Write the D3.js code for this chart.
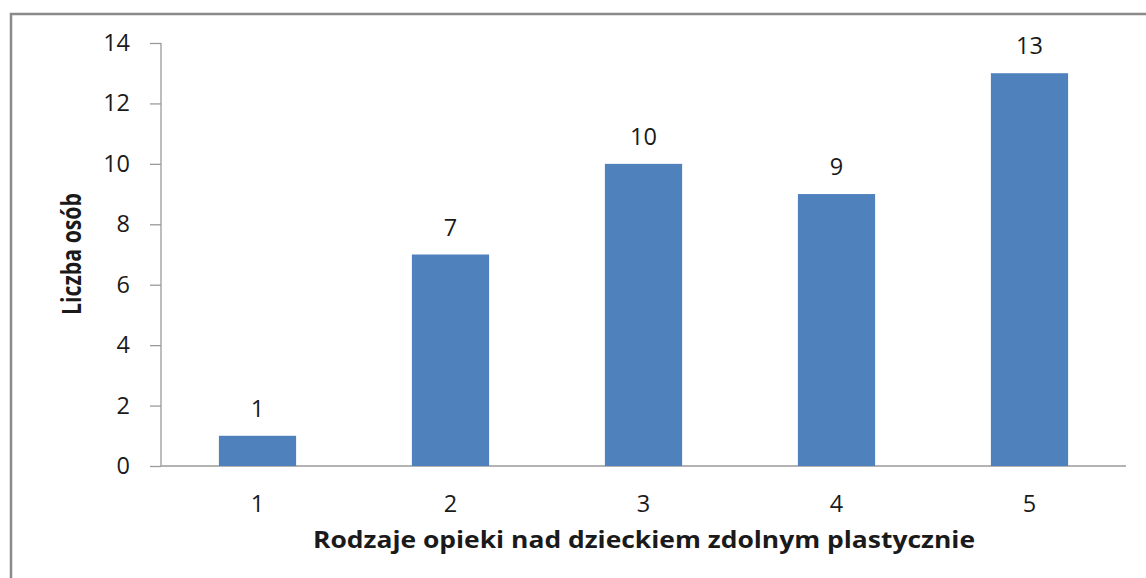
<!DOCTYPE html>
<html>
<head>
<meta charset="utf-8">
<script src="https://cdn.jsdelivr.net/npm/d3@7"></script>
<style>
	body { margin: 0; background: #fff; }
	svg { display: block; }
	text { font-family: "Open Sans", "DejaVu Sans", sans-serif; fill: #1a1a1a; }
</style>
</head>
<body>
<script>
var categories = ["1", "2", "3", "4", "5"],
	values = [1, 7, 10, 9, 13],
	yTicks = [0, 2, 4, 6, 8, 10, 12, 14];

var yTitle = "Liczba osób",
	xTitle = "Rodzaje opieki nad dzieckiem zdolnym plastycznie";

var width = 1146,
	height = 578,
	margin = { top: 43, right: 20, bottom: 112, left: 161 };

var svg = d3.select("body").append("svg")
	.attr("width", width)
	.attr("height", height);

// frame of the chart area (only top and left edges are visible)
svg.append("path")
	.attr("d", "M11,580 V14 H1150")
	.attr("fill", "none")
	.attr("stroke", "#8a8a8a")
	.attr("stroke-width", 2.5);

var x = d3.scaleBand()
	.domain(categories)
	.range([margin.left, width - margin.right])
	.paddingInner(0.6)
	.paddingOuter(0.3);

var y = d3.scaleLinear()
	.domain([0, 14])
	.range([height - margin.bottom, margin.top]);

// y axis
var yAxis = svg.append("g")
	.attr("transform", "translate(" + margin.left + ",0)")
	.call(d3.axisLeft(y).tickValues(yTicks).tickSize(11).tickPadding(20));

yAxis.selectAll("line, path").attr("stroke", "#9a9a9a").attr("stroke-width", 1.3);
yAxis.select(".domain").attr("d", "M0," + y(14) + "V" + y(0));
yAxis.selectAll("text")
	.style("font-size", "23.5px")
	.attr("fill", "#1a1a1a")
	.style("font-family", "'Open Sans', sans-serif");

// x axis
var xAxis = svg.append("g")
	.attr("transform", "translate(0," + y(0) + ")")
	.call(d3.axisBottom(x).tickSize(0).tickPadding(29));

xAxis.select(".domain")
	.attr("stroke", "#9a9a9a")
	.attr("stroke-width", 1.3)
	.attr("d", "M" + margin.left + ",0H" + (width - margin.right));
xAxis.selectAll("text")
	.style("font-size", "23.5px")
	.attr("fill", "#1a1a1a")
	.style("font-family", "'Open Sans', sans-serif");

// bars
svg.selectAll(".bar")
	.data(values)
	.enter().append("rect")
	.attr("class", "bar")
	.attr("x", function (d, i) { return x(categories[i]); })
	.attr("y", function (d) { return y(d); })
	.attr("width", x.bandwidth())
	.attr("height", function (d) { return y(0) - y(d); })
	.attr("fill", "#4f81bd");

// value labels
svg.selectAll(".label")
	.data(values)
	.enter().append("text")
	.attr("class", "label")
	.attr("x", function (d, i) { return x(categories[i]) + x.bandwidth() / 2; })
	.attr("y", function (d) { return y(d) - 19; })
	.attr("text-anchor", "middle")
	.style("font-size", "23.5px")
	.text(function (d) { return d; });

// axis titles
svg.append("text")
	.attr("x", 644)
	.attr("y", 548)
	.attr("text-anchor", "middle")
	.attr("textLength", 662)
	.attr("lengthAdjust", "spacingAndGlyphs")
	.style("font-size", "22.5px")
	.style("font-weight", "bold")
	.text(xTitle);

svg.append("text")
	.attr("transform", "translate(81,254)rotate(-90)")
	.attr("text-anchor", "middle")
	.attr("textLength", 122)
	.attr("lengthAdjust", "spacingAndGlyphs")
	.style("font-size", "26px")
	.style("font-weight", "bold")
	.text(yTitle);
</script>
</body>
</html>
